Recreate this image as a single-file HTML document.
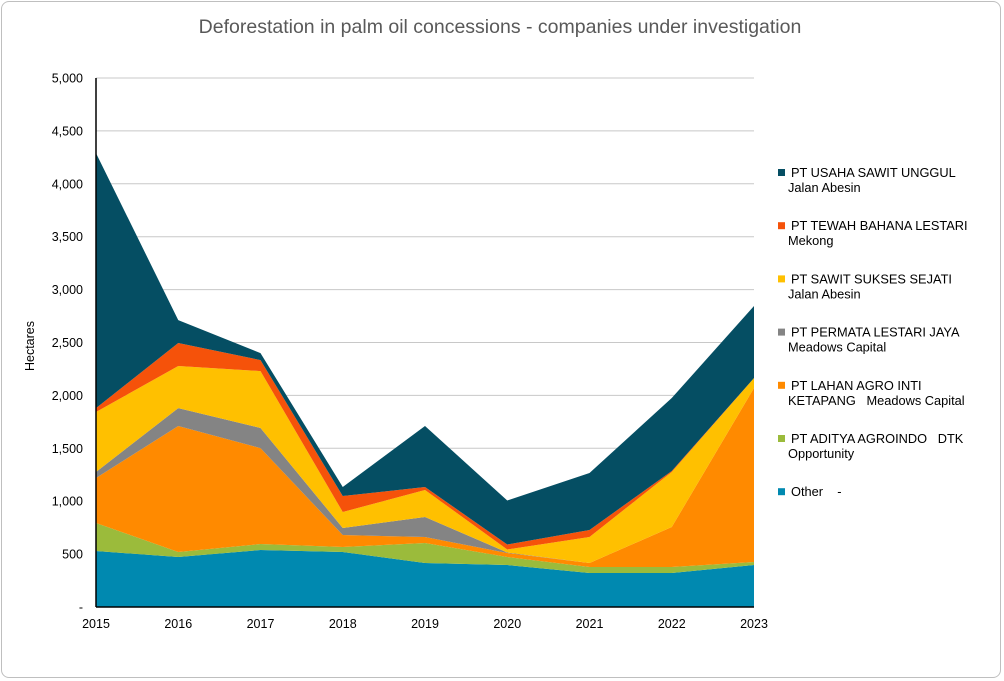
<!DOCTYPE html>
<html><head><meta charset="utf-8"><style>
html,body{margin:0;padding:0;background:#fff;}
body{width:1004px;height:681px;overflow:hidden;font-family:"Liberation Sans",sans-serif;}
#frame{position:absolute;left:1px;top:1px;width:1000px;height:677px;border:1px solid #bfbfbf;border-radius:8px;box-sizing:border-box;}
svg text{white-space:pre;}
</style></head><body>
<div id="frame"></div>
<svg id="chart" width="1004" height="681" style="position:absolute;left:0;top:0"></svg>
<script>
const years = ['2015','2016','2017','2018','2019','2020','2021','2022','2023'];
const other = [529,472,539,520,416,397,321,321,397];
const aditya = [265,48,56,47,189,75,57,57,28];
const lahan = [425,1191,907,113,57,38,38,378,1645];
const permata = [57,169,190,67,189,5,0,0,0];
const sawitSukses = [567,398,538,151,255,29,246,520,94];
const tewah = [37,217,104,151,28,47,66,9,0];
const usaha = [2410,217,66,85,577,416,538,690,681];
const yTicks = [0,500,1000,1500,2000,2500,3000,3500,4000,4500,5000];
const yTickLabels = ['-','500','1,000','1,500','2,000','2,500','3,000','3,500','4,000','4,500','5,000'];
const seriesNames = [
 ['PT USAHA SAWIT UNGGUL','Jalan Abesin'],
 ['PT TEWAH BAHANA LESTARI','Mekong'],
 ['PT SAWIT SUKSES SEJATI','Jalan Abesin'],
 ['PT PERMATA LESTARI JAYA','Meadows Capital'],
 ['PT LAHAN AGRO INTI','KETAPANG   Meadows Capital'],
 ['PT ADITYA AGROINDO   DTK','Opportunity'],
 ['Other    -', null]
];
const NS='http://www.w3.org/2000/svg';
const svg=document.getElementById('chart');
const X0=96,X1=754,Y0=607,Y1=78,VMAX=5000;
const xs=i=>X0+(X1-X0)*i/(years.length-1);
const ys=v=>Y0-(Y0-Y1)*v/VMAX;
function mk(t,a){const e=document.createElementNS(NS,t);for(const k in a)e.setAttribute(k,a[k]);svg.appendChild(e);return e;}
let t=mk('text',{x:500,y:33,'text-anchor':'middle','font-size':'19.5','fill':'#595959'});
t.textContent='Deforestation in palm oil concessions - companies under investigation';


yTicks.forEach((v,i)=>{
 if(v>0){const g=mk('line',{x1:X0,x2:X1,y1:ys(v),y2:ys(v),stroke:'#c8c8c8','stroke-width':1});
 
 }
 const l=mk('text',{x:83,y:ys(v)+4.5,'text-anchor':'end','font-size':'12.5',fill:'#000'});
 l.textContent=yTickLabels[i];
 
 
});
const stack=[[other,'#0089b0'],[aditya,'#9bbb3b'],[lahan,'#ff8a00'],[permata,'#848484'],[sawitSukses,'#ffc000'],[tewah,'#f5520a'],[usaha,'#054e63']];
const areaNames=['area-other','area-aditya','area-lahan','area-permata','area-sawit-sukses','area-tewah','area-usaha'];
let base=years.map(()=>0);
stack.forEach(([arr,col],si)=>{
 const top=base.map((b,i)=>b+arr[i]);
 let d='M'+years.map((_,i)=>xs(i)+','+ys(top[i])).join('L');
 for(let i=years.length-1;i>=0;i--)d+='L'+xs(i)+','+ys(base[i]);
 const p=mk('path',{d:d+'Z',fill:col});
 
 
 base=top;
});
let ax=mk('line',{x1:X0,x2:X1,y1:Y0,y2:Y0,stroke:'#000','stroke-width':1.5});


let ay=mk('line',{x1:X0,x2:X0,y1:Y1,y2:Y0,stroke:'#000','stroke-width':1.5});


years.forEach((y,i)=>{
 const l=mk('text',{x:xs(i),y:628,'text-anchor':'middle','font-size':'12.5',fill:'#000'});
 l.textContent=y;
 
 
});
let yt=mk('text',{x:0,y:0,'text-anchor':'middle','font-size':'12.5',fill:'#000',transform:'translate(34,346) rotate(-90)'});
yt.textContent='Hectares';


const legCols=['#054e63','#f5520a','#ffc000','#848484','#ff8a00','#9bbb3b','#0089b0'];
seriesNames.forEach((n,i)=>{
 const y0=177+i*53.2;
 const r=mk('rect',{x:778,y:y0-8,width:7,height:7,fill:legCols[i]});
 
 
 const a=mk('text',{x:791,y:y0,'font-size':'12.8',fill:'#000'});
 a.textContent=n[0];
 
 
 if(n[1]){const b=mk('text',{x:788,y:y0+15,'font-size':'12.8',fill:'#000'});
 b.textContent=n[1];
 
 }
});
</script>
</body></html>
